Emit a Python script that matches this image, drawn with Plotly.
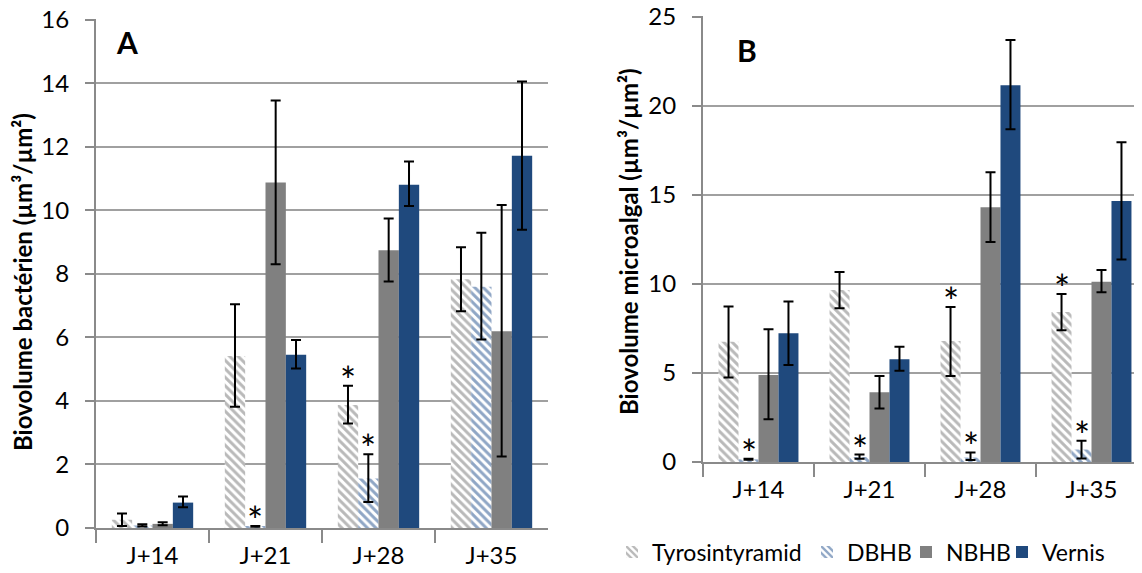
import plotly.graph_objects as go

categories = ["J+14", "J+21", "J+28", "J+35"]
series_names = ["Tyrosintyramid", "DBHB", "NBHB", "Vernis"]

# Panel A - bacterial biovolume
tyr_A = [0.26, 5.42, 3.87, 7.83]
tyr_A_hi = [0.46, 7.05, 4.48, 8.84]
tyr_A_lo = [0.06, 3.82, 3.29, 6.83]
dbhb_A = [0.08, 0.05, 1.56, 7.60]
dbhb_A_hi = [0.12, 0.06, 2.32, 9.30]
dbhb_A_lo = [0.05, 0.04, 0.82, 5.94]
nbhb_A = [0.13, 10.88, 8.75, 6.20]
nbhb_A_hi = [0.18, 13.46, 9.75, 10.17]
nbhb_A_lo = [0.09, 8.31, 7.76, 2.25]
vern_A = [0.80, 5.46, 10.81, 11.72]
vern_A_hi = [0.99, 5.92, 11.54, 14.06]
vern_A_lo = [0.65, 5.02, 10.14, 9.39]

# Panel B - microalgal biovolume
tyr_B = [6.76, 9.66, 6.80, 8.43]
tyr_B_hi = [8.73, 10.67, 8.70, 9.44]
tyr_B_lo = [4.74, 8.63, 4.83, 7.40]
dbhb_B = [0.15, 0.28, 0.25, 0.70]
dbhb_B_hi = [0.18, 0.42, 0.54, 1.20]
dbhb_B_lo = [0.12, 0.18, 0.11, 0.19]
nbhb_B = [4.89, 3.92, 14.31, 10.13]
nbhb_B_hi = [7.45, 4.83, 16.27, 10.79]
nbhb_B_lo = [2.40, 3.01, 12.36, 9.53]
vern_B = [7.23, 5.77, 21.16, 14.66]
vern_B_hi = [9.01, 6.48, 23.70, 17.96]
vern_B_lo = [5.45, 5.13, 18.69, 11.37]

# significance asterisks (1 = marked)
sig_A_tyr = [0, 0, 1, 0]
sig_A_dbhb = [0, 1, 1, 0]
sig_B_tyr = [0, 0, 1, 1]
sig_B_dbhb = [1, 1, 1, 1]

W, H = 1142, 573
OFF = 8  # page body margin


def fx(p):
    return (p - OFF) / W


def fy(p):
    return 1 - (p - OFF) / H


FONT = "Lato"
GRID = "#a0a0a0"
AXIS = "#8a8a8a"

styles = [
    dict(color="white", pattern=dict(shape="\\", fgcolor="#747474", bgcolor="white", size=6, solidity=0.5)),
    dict(color="white", pattern=dict(shape="\\", fgcolor="#1f4e8c", bgcolor="white", size=6, solidity=0.5)),
    dict(color="#808080"),
    dict(color="#1f497d"),
]

fig = go.Figure()

panelA = [(tyr_A, tyr_A_hi, tyr_A_lo), (dbhb_A, dbhb_A_hi, dbhb_A_lo),
          (nbhb_A, nbhb_A_hi, nbhb_A_lo), (vern_A, vern_A_hi, vern_A_lo)]
panelB = [(tyr_B, tyr_B_hi, tyr_B_lo), (dbhb_B, dbhb_B_hi, dbhb_B_lo),
          (nbhb_B, nbhb_B_hi, nbhb_B_lo), (vern_B, vern_B_hi, vern_B_lo)]
legend_ids = ["legend", "legend2", "legend3", "legend4"]

for panel, (xa, ya, show) in [(panelA, ("x", "y", False)), (panelB, ("x2", "y2", True))]:
    for i, (vals, hi, lo) in enumerate(panel):
        fig.add_trace(go.Bar(
            x=categories, y=vals, name=series_names[i],
            xaxis=xa, yaxis=ya, showlegend=show, legend=legend_ids[i],
            marker=dict(line=dict(width=0), **styles[i]),
            error_y=dict(type="data", symmetric=False,
                         array=[h - v for h, v in zip(hi, vals)],
                         arrayminus=[v - l for v, l in zip(vals, lo)],
                         color="black", thickness=2, width=5),
        ))

BARGAP = 0.28
bw = (1 - BARGAP) / 4
annotations = []


def add_stars(sig, hi, trace_idx, xref, yref):
    for k, s in enumerate(sig):
        if s:
            annotations.append(dict(
                x=k + (trace_idx - 1.5) * bw, y=hi[k], xref=xref, yref=yref,
                text="*", showarrow=False, yanchor="bottom", yshift=-19,
                font=dict(family=FONT, size=38, color="black")))


add_stars(sig_A_tyr, tyr_A_hi, 0, "x", "y")
add_stars(sig_A_dbhb, dbhb_A_hi, 1, "x", "y")
add_stars(sig_B_tyr, tyr_B_hi, 0, "x2", "y2")
add_stars(sig_B_dbhb, dbhb_B_hi, 1, "x2", "y2")

annotations += [
    dict(x=fx(127), y=fy(42), xref="paper", yref="paper", text="<b>A</b>", showarrow=False,
         font=dict(family=FONT, size=30, color="black"), xanchor="center", yanchor="middle"),
    dict(x=fx(747), y=fy(50), xref="paper", yref="paper", text="<b>B</b>", showarrow=False,
         font=dict(family=FONT, size=30, color="black"), xanchor="center", yanchor="middle"),
    dict(x=fx(22), y=fy(282), xref="paper", yref="paper",
         text="<b>Biovolume bactérien (µm³/µm²)</b>", textangle=-90, showarrow=False,
         font=dict(family=FONT, size=24, color="black"), xanchor="center", yanchor="middle"),
    dict(x=fx(628), y=fy(242), xref="paper", yref="paper",
         text="<b>Biovolume microalgal (µm³/µm²)</b>", textangle=-90, showarrow=False,
         font=dict(family=FONT, size=24, color="black"), xanchor="center", yanchor="middle"),
]

xcommon = dict(type="category", tickson="boundaries", ticks="outside", ticklen=13,
               tickwidth=2, tickcolor=AXIS, showline=True, linecolor=AXIS, linewidth=2,
               showgrid=False, tickfont=dict(family=FONT, size=24, color="black"),
               ticklabelstandoff=5, automargin=False, fixedrange=True)
ycommon = dict(ticks="outside", ticklen=9, tickwidth=2, tickcolor=AXIS, showline=True,
               linecolor=AXIS, linewidth=2, showgrid=True, gridcolor=GRID, gridwidth=2,
               zeroline=False, automargin=False, ticklabelstandoff=11,
               ticklabeloverflow="allow",
               tickfont=dict(family=FONT, size=24, color="black"))

legend_text_x = [650, 845, 944, 1040]
legends = {}
for i, lid in enumerate(legend_ids):
    legends[lid] = dict(orientation="h", x=fx(legend_text_x[i] - 38), y=fy(552),
                        xanchor="left", yanchor="middle",
                        font=dict(family=FONT, size=23, color="black"), itemwidth=30,
                        bgcolor="rgba(0,0,0,0)", itemsizing="constant")

fig.update_layout(
    width=W, height=H,
    margin=dict(l=0, r=0, t=0, b=0, autoexpand=False),
    paper_bgcolor="white", plot_bgcolor="white",
    barmode="group", bargap=BARGAP, bargroupgap=0,
    xaxis=dict(domain=[fx(96), fx(548)], range=[-0.5, 3.5], anchor="y", **xcommon),
    yaxis=dict(domain=[fy(528), fy(19)], range=[0, 16.03], dtick=2, anchor="x", **ycommon),
    xaxis2=dict(domain=[fx(703), 1.0], range=[-0.5, -0.5 + (W + OFF - 703) / 111], anchor="y2", **xcommon),
    yaxis2=dict(domain=[fy(462), fy(16)], range=[0, 25.05], dtick=5, anchor="x2", **ycommon),
    annotations=annotations,
    font=dict(family=FONT),
    **legends,
)

fig.write_html("out.html")
